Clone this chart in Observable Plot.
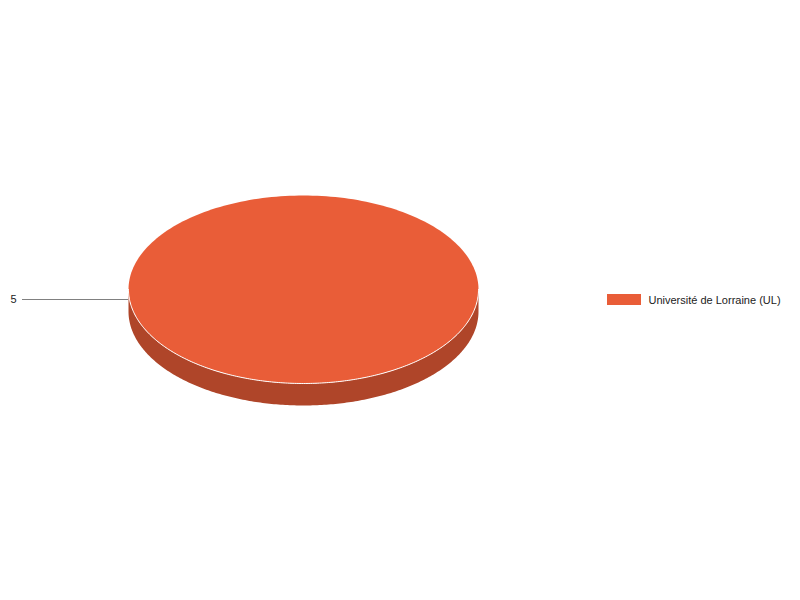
<!DOCTYPE html>
<html>
<head>
<meta charset="utf-8">
<script src="https://cdn.jsdelivr.net/npm/d3@7"></script>
<script src="https://cdn.jsdelivr.net/npm/@observablehq/plot@0.6"></script>
<style>
  html, body { margin: 0; padding: 0; background: #fff; }
  #chart svg { display: block; }
</style>
</head>
<body>
<div id="chart"></div>
<script>
// ---- data ----
const categories = ["Université de Lorraine (UL)"];
const values = [5];
const labels = ["5"];
const colors = ["#E95D38"];
const sideColors = ["#AF4529"];

// ---- layout ----
const W = 800, H = 600;
const cx = 303, cy = 289, rx = 175, ry = 94, depth = 22;
const N = 240;

const pt = (t, dy = 0) => ({ x: cx + rx * Math.sin(t), y: cy - ry * Math.cos(t) + dy });

const arcs = d3.pie().sort(null)(values);

// top faces
const topPts = [];
const sidePts = [];
const edgePts = [];
arcs.forEach((a, i) => {
  const full = a.endAngle - a.startAngle >= 2 * Math.PI - 1e-9;
  const pts = [];
  if (!full) pts.push({ x: cx, y: cy });
  for (let k = 0; k <= N; k++) {
    const t = a.startAngle + (a.endAngle - a.startAngle) * k / N;
    pts.push(pt(t));
  }
  pts.forEach(p => topPts.push({ ...p, key: i }));
  // front side: visible angular range [PI/2, 3PI/2]
  const s = Math.max(a.startAngle, Math.PI / 2), e = Math.min(a.endAngle, 3 * Math.PI / 2);
  if (e > s) {
    const upper = [], lower = [];
    for (let k = 0; k <= N; k++) {
      const t = s + (e - s) * k / N;
      upper.push(pt(t));
      lower.push(pt(t, depth));
    }
    [...upper, ...lower.reverse()].forEach(p => sidePts.push({ ...p, key: i }));
    upper.forEach(p => edgePts.push({ ...p, key: i }));
  }
});

// label / leader line
const labelData = arcs.map((a, i) => ({ label: labels[i], x: 13, y: 299, lx1: 22, lx2: cx - rx, key: i }));
const legendData = categories.map((c, i) => ({ name: c, color: colors[i], y: 300 + i * 20 }));

const plot = Plot.plot({
  width: W, height: H,
  margin: 0,
  x: { domain: [0, W], range: [0, W], axis: null },
  y: { domain: [0, H], range: [0, H], axis: null },
  style: { fontFamily: "Liberation Sans, Arial, sans-serif", fontSize: "11px", background: "#fff" },
  marks: [
    Plot.line(sidePts, { x: "x", y: "y", z: "key", fill: d => sideColors[d.key], stroke: "none", curve: "linear-closed" }),
    Plot.line(topPts, { x: "x", y: "y", z: "key", fill: d => colors[d.key], stroke: "none", curve: "linear-closed" }),
    Plot.line(edgePts, { x: "x", y: "y", z: "key", stroke: "#ffffff", strokeWidth: 1 }),
    Plot.ruleY(labelData, { y: "y", x1: "lx1", x2: "lx2", stroke: "#808080", strokeWidth: 1 }),
    Plot.text(labelData, { x: "x", y: "y", text: "label", fill: "#222", fontSize: 11, textAnchor: "middle" }),
    Plot.rect(legendData, { x1: 607, x2: 641, y1: d => d.y - 6, y2: d => d.y + 5, fill: "color" }),
    Plot.text(legendData, { x: 648, y: "y", text: "name", fill: "#222", fontSize: 11, textAnchor: "start" })
  ]
});
document.getElementById("chart").appendChild(plot);
</script>
</body>
</html>
